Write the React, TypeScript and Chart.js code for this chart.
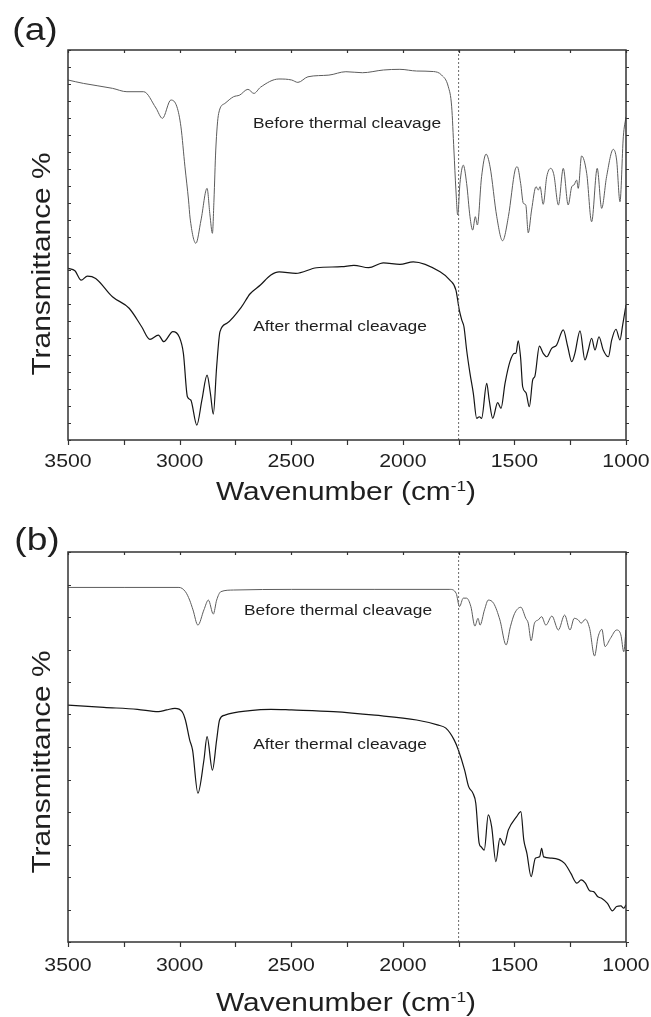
import React, { useEffect, useRef } from "react";
import { Chart, registerables } from "chart.js";

Chart.register(...registerables);

// ---------- data ----------
const xTickLabels = [3500, 3000, 2500, 2000, 1500, 1000];
const xAllTicks = [3500, 3250, 3000, 2750, 2500, 2250, 2000, 1750, 1500, 1250, 1000];
const markerWavenumber = 1750;

const aBeforeWn = [
  3500, 3431, 3301, 3236, 3161, 3106, 3077, 3039, 3012, 2994,
  2976, 2960, 2953, 2927, 2904, 2877, 2864, 2853, 2846, 2838,
  2825, 2797, 2759, 2731, 2694, 2667, 2638, 2555, 2498, 2470,
  2425, 2331, 2255, 2181, 2087, 2013, 1938, 1863, 1826, 1796,
  1781, 1771, 1762, 1754, 1744, 1729, 1714, 1699, 1687, 1675,
  1666, 1647, 1627, 1609, 1579, 1553, 1527, 1497, 1487, 1472,
  1460, 1449, 1438, 1423, 1403, 1393, 1385, 1371, 1355, 1337,
  1323, 1303, 1281, 1259, 1243, 1233, 1221, 1214, 1199, 1176,
  1154, 1129, 1109, 1087, 1057, 1042, 1027, 1012, 1000,
];
const aBeforeT = [
  21.23, 21.03, 20.74, 20.54, 20.54, 19.58, 18.97, 20.05, 19.65, 18.47,
  16.11, 14.15, 13.09, 11.6, 12.97, 14.84, 13.27, 12.19, 14.15, 17.1,
  19.26, 19.85, 20.24, 20.34, 20.68, 20.44, 20.8, 21.29, 21.23, 21.09,
  21.42, 21.52, 21.72, 21.66, 21.82, 21.86, 21.76, 21.73, 21.52, 20.83,
  19.65, 17.1, 14.74, 13.27, 15.13, 16.21, 15.13, 13.17, 12.38, 13.17,
  12.68, 15.53, 16.86, 16.11, 13.17, 11.75, 13.17, 15.92, 16.11, 15.13,
  13.96, 13.86, 12.22, 13.56, 14.94, 14.74, 14.94, 13.9, 15.53, 16.02,
  15.63, 13.86, 16.02, 13.86, 14.94, 15.04, 15.33, 14.84, 16.75, 15.72,
  12.87, 16.02, 13.66, 15.53, 17.14, 16.51, 14.05, 17.88, 19.06,
];

const aAfterWn = [
  3500, 3469, 3441, 3413, 3376, 3301, 3226, 3170, 3133, 3095,
  3071, 3030, 3002, 2983, 2965, 2950, 2923, 2900, 2877, 2862,
  2849, 2834, 2819, 2788, 2722, 2685, 2638, 2591, 2554, 2479,
  2386, 2274, 2219, 2153, 2087, 2013, 1953, 1833, 1789, 1762,
  1747, 1736, 1726, 1714, 1699, 1684, 1669, 1657, 1647, 1624,
  1613, 1597, 1575, 1560, 1542, 1520, 1500, 1493, 1483, 1472,
  1463, 1448, 1433, 1418, 1408, 1388, 1371, 1355, 1333, 1311,
  1281, 1261, 1243, 1229, 1206, 1184, 1169, 1154, 1139, 1121,
  1102, 1079, 1064, 1045, 1027, 1015, 1000,
];
const aAfterT = [
  10.12, 9.98, 9.43, 9.67, 9.53, 8.45, 7.77, 6.68, 5.94, 6.19,
  5.8, 6.39, 6.09, 5.11, 2.55, 2.36, 0.88, 2.36, 3.83, 2.75,
  1.53, 4.32, 6.39, 6.88, 7.86, 8.61, 9.14, 9.73, 9.92, 9.83,
  10.16, 10.22, 10.3, 10.16, 10.45, 10.36, 10.51, 9.92, 9.43, 8.84,
  7.67, 7.08, 6.68, 5.31, 3.93, 2.75, 1.28, 1.37, 1.28, 3.34,
  2.36, 1.28, 2.2, 1.87, 3.34, 4.62, 5.11, 5.11, 5.84, 4.82,
  3.14, 2.79, 1.96, 3.54, 3.77, 5.54, 5.11, 4.91, 5.41, 5.6,
  6.49, 5.5, 4.62, 5.11, 6.44, 4.72, 5.31, 6.0, 5.31, 6.09,
  5.31, 4.91, 5.9, 6.53, 5.9, 6.78, 7.96,
];

const bBeforeWn = [
  3500, 3245, 3003, 2974, 2955, 2940, 2918, 2891, 2871, 2849,
  2834, 2815, 2759, 2498, 2125, 1789, 1761, 1746, 1729, 1714,
  1695, 1677, 1663, 1654, 1634, 1617, 1593, 1565, 1537, 1518,
  1499, 1471, 1449, 1438, 1425, 1410, 1393, 1378, 1359, 1332,
  1303, 1275, 1251, 1232, 1214, 1201, 1182, 1163, 1141, 1125,
  1108, 1094, 1070, 1042, 1023, 1010, 1000,
];
const bBeforeT = [
  10.91, 10.91, 10.91, 10.78, 10.52, 10.22, 9.75, 10.22, 10.52, 10.09,
  10.52, 10.78, 10.83, 10.85, 10.85, 10.85, 10.73, 10.32, 10.58, 10.58,
  10.32, 9.72, 9.96, 9.75, 10.22, 10.52, 10.42, 9.91, 9.14, 9.7,
  10.11, 10.3, 9.96, 9.81, 9.27, 9.81, 9.91, 10.01, 9.75, 10.03,
  9.6, 10.06, 9.6, 9.96, 9.91, 9.81, 9.93, 9.65, 8.8, 9.39,
  9.62, 9.09, 9.34, 9.6, 9.45, 8.93, 9.6,
];

const bAfterWn = [
  3500, 3339, 3189, 3095, 3058, 3021, 2989, 2974, 2955, 2942,
  2918, 2891, 2877, 2853, 2834, 2821, 2797, 2685, 2591, 2498,
  2311, 2125, 1938, 1845, 1807, 1770, 1751, 1723, 1705, 1686,
  1673, 1658, 1649, 1635, 1617, 1602, 1583, 1565, 1546, 1527,
  1490, 1471, 1458, 1444, 1425, 1406, 1387, 1378, 1369, 1332,
  1275, 1247, 1220, 1201, 1182, 1163, 1145, 1126, 1108, 1083,
  1061, 1042, 1023, 1010, 1000,
];
const bAfterT = [
  7.29, 7.22, 7.16, 7.09, 7.14, 7.19, 7.09, 6.83, 6.22, 5.91,
  4.58, 5.6, 6.32, 5.29, 6.22, 6.83, 6.98, 7.12, 7.16, 7.14,
  7.09, 6.98, 6.83, 6.68, 6.58, 6.22, 5.91, 5.29, 4.78, 4.58,
  4.27, 3.04, 2.93, 2.83, 3.91, 3.55, 2.47, 3.19, 2.98, 3.45,
  3.86, 4.01, 3.14, 2.73, 2.01, 2.58, 2.62, 2.88, 2.62, 2.58,
  2.42, 2.11, 1.81, 1.91, 1.81, 1.58, 1.55, 1.39, 1.34, 1.19,
  0.96, 1.09, 1.11, 1.04, 1.14,
];

const panelLabels = ["(a)", "(b)"];
const curveLabels = ["Before thermal cleavage", "After thermal cleavage"];
const yTitle = "Transmittance %";

// ---------- styles ----------
const FONT = "'Liberation Sans', Arial, Helvetica, sans-serif";
const TEXT = "#1f1f1f";

const zip = (xs: number[], ys: number[]) => xs.map((x, i) => ({ x, y: ys[i] }));

type PanelCfg = {
  label: string;
  yMax: number;
  before: { x: number; y: number }[];
  after: { x: number; y: number }[];
  height: number;
  pad: { left: number; right: number; top: number; bottom: number };
  labelPos: [number, number];
  beforePos: [number, number];
  afterPos: [number, number];
  tickBaseline: number;
  titleBaseline: number;
  yTitleY: number;
};

const panels: PanelCfg[] = [
  {
    label: panelLabels[0],
    yMax: 23,
    before: zip(aBeforeWn, aBeforeT),
    after: zip(aAfterWn, aAfterT),
    height: 508,
    pad: { left: 68, right: 25, top: 50, bottom: 68 },
    labelPos: [35, 31],
    beforePos: [347, 128],
    afterPos: [340, 331],
    tickBaseline: 27,
    titleBaseline: 500,
    yTitleY: 264,
  },
  {
    label: panelLabels[1],
    yMax: 12,
    before: zip(bBeforeWn, bBeforeT),
    after: zip(bAfterWn, bAfterT),
    height: 509,
    pad: { left: 68, right: 25, top: 44, bottom: 75 },
    labelPos: [37, 33],
    beforePos: [338, 107],
    afterPos: [340, 241],
    tickBaseline: 29,
    titleBaseline: 503,
    yTitleY: 254,
  },
];

function drawText(
  ctx: CanvasRenderingContext2D,
  text: string,
  x: number,
  y: number,
  size: number,
  sx: number,
  align: CanvasTextAlign = "center",
  baseline: CanvasTextBaseline = "alphabetic",
  rotate = false
) {
  ctx.save();
  ctx.translate(x, y);
  if (rotate) ctx.rotate(-Math.PI / 2);
  ctx.scale(sx, 1);
  ctx.font = `${size}px ${FONT}`;
  ctx.fillStyle = TEXT;
  ctx.textAlign = align;
  ctx.textBaseline = baseline;
  ctx.fillText(text, 0, 0);
  ctx.restore();
}

function drawWavenumberTitle(ctx: CanvasRenderingContext2D, cx: number, baseline: number) {
  const main = 26;
  const sup = 15;
  const sx = 1.15;
  ctx.save();
  ctx.font = `${main}px ${FONT}`;
  const w1 = ctx.measureText("Wavenumber (cm").width * sx;
  const w3 = ctx.measureText(")").width * sx;
  ctx.font = `${sup}px ${FONT}`;
  const w2 = ctx.measureText("-1").width * sx;
  ctx.restore();
  let x0 = cx - (w1 + w2 + w3) / 2;
  drawText(ctx, "Wavenumber (cm", x0, baseline, main, sx, "left");
  x0 += w1;
  drawText(ctx, "-1", x0, baseline - 9, sup, sx, "left");
  x0 += w2;
  drawText(ctx, ")", x0, baseline, main, sx, "left");
}

function makeDecorPlugin(cfg: PanelCfg) {
  return {
    id: "decor",
    afterDraw(chart: any) {
      const ctx: CanvasRenderingContext2D = chart.ctx;
      const { left, right, top, bottom } = chart.chartArea;
      const xs = chart.scales.x;
      const ys = chart.scales.y;
      ctx.save();
      // frame
      ctx.strokeStyle = "#333";
      ctx.lineWidth = 1.5;
      ctx.strokeRect(left, top, right - left, bottom - top);
      // tick marks
      ctx.lineWidth = 1.2;
      ctx.beginPath();
      xAllTicks.forEach((v) => {
        const px = Math.round(xs.getPixelForValue(v)) + 0.5;
        ctx.moveTo(px, bottom);
        ctx.lineTo(px, bottom + 5);
        ctx.moveTo(px, top);
        ctx.lineTo(px, top + 3);
      });
      for (let i = 0; i <= cfg.yMax; i++) {
        const py = Math.round(ys.getPixelForValue(i)) + 0.5;
        ctx.moveTo(left, py);
        ctx.lineTo(left + 3, py);
        ctx.moveTo(right, py);
        ctx.lineTo(right + 3, py);
      }
      ctx.stroke();
      ctx.restore();
      // tick labels
      xTickLabels.forEach((v) => {
        drawText(ctx, String(v), xs.getPixelForValue(v), bottom + cfg.tickBaseline, 18.5, 1.15);
      });
      // titles
      drawWavenumberTitle(ctx, (left + right) / 2 - 1, cfg.titleBaseline);
      drawText(ctx, yTitle, 43, cfg.yTitleY, 26, 1.15, "center", "middle", true);
      // panel label
      drawText(ctx, cfg.label, cfg.labelPos[0], cfg.labelPos[1], 31, 1.2, "center", "middle");
      // curve annotations
      drawText(ctx, curveLabels[0], cfg.beforePos[0], cfg.beforePos[1], 15.5, 1.12);
      drawText(ctx, curveLabels[1], cfg.afterPos[0], cfg.afterPos[1], 15.5, 1.12);
    },
  };
}

function Panel({ cfg }: { cfg: PanelCfg }) {
  const ref = useRef<HTMLCanvasElement | null>(null);
  useEffect(() => {
    if (!ref.current) return;
    const chart = new Chart(ref.current, {
      type: "line",
      data: {
        datasets: [
          {
            data: [
              { x: markerWavenumber, y: 0 },
              { x: markerWavenumber, y: cfg.yMax },
            ],
            borderColor: "#6a6a6a",
            borderWidth: 1,
            borderDash: [2, 2],
            pointRadius: 0,
            tension: 0,
          },
          {
            data: cfg.before,
            borderColor: "#5c5c5c",
            borderWidth: 1,
            pointRadius: 0,
            cubicInterpolationMode: "monotone",
          },
          {
            data: cfg.after,
            borderColor: "#151515",
            borderWidth: 1.2,
            pointRadius: 0,
            cubicInterpolationMode: "monotone",
          },
        ],
      },
      options: {
        animation: false,
        responsive: false,
        events: [],
        layout: { padding: cfg.pad },
        plugins: { legend: { display: false }, tooltip: { enabled: false } },
        scales: {
          x: {
            type: "linear",
            reverse: true,
            min: 1000,
            max: 3500,
            ticks: { display: false, stepSize: 250 },
            grid: { display: false },
            border: { display: false },
            afterFit: (s: any) => {
              s.height = 0;
            },
          },
          y: {
            type: "linear",
            min: 0,
            max: cfg.yMax,
            ticks: { display: false, stepSize: 1 },
            grid: { display: false },
            border: { display: false },
            afterFit: (s: any) => {
              s.width = 0;
            },
          },
        },
      } as any,
      plugins: [makeDecorPlugin(cfg)],
    });
    return () => chart.destroy();
  }, [cfg]);
  return <canvas ref={ref} width={651} height={cfg.height} style={{ display: "block", width: 651, height: cfg.height }} />;
}

export default function App() {
  return (
    <div style={{ position: "absolute", left: 0, top: 0, width: 651, height: 1017, background: "#fff" }}>
      {panels.map((p, i) => (
        <Panel key={i} cfg={p} />
      ))}
    </div>
  );
}
